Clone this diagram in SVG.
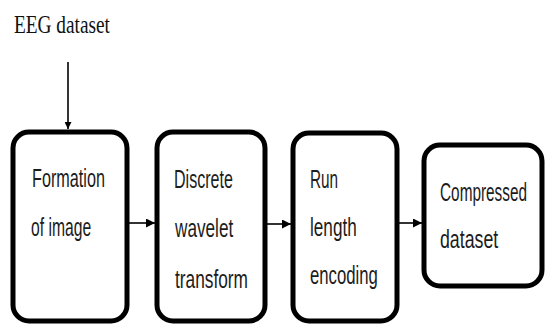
<svg xmlns="http://www.w3.org/2000/svg" width="547" height="325" viewBox="0 0 547 325">
<defs>
<style>
.box{fill:#fff;stroke:#000;stroke-width:5}
.t{font-family:"Liberation Sans",Arial,sans-serif;font-size:26px;fill:#1c1c1c}
.ttl{font-family:"Liberation Serif","Times New Roman",serif;font-size:26px;fill:#111}
.c{stroke:#000;stroke-width:1.6;fill:none}
</style>
<marker id="ah" viewBox="0 0 10 10" refX="10" refY="5" markerWidth="7" markerHeight="7" markerUnits="userSpaceOnUse" orient="auto"><path d="M0,0 L10,5 L0,10 z" fill="#000"/></marker>
<marker id="ah2" viewBox="0 0 10 10" refX="10" refY="5" markerWidth="9" markerHeight="9" markerUnits="userSpaceOnUse" orient="auto"><path d="M0,0 L10,5 L0,10 z" fill="#000"/></marker>
</defs>
<rect width="547" height="325" fill="#fff"/>
<text class="ttl" transform="translate(14,33) scale(0.75,1)" textLength="128" lengthAdjust="spacingAndGlyphs">EEG dataset</text>
<g id="n1">
<rect class="box" x="13" y="132" width="114" height="189" rx="16"/>
<text class="t" transform="translate(32,187) scale(0.64,1)" textLength="114" lengthAdjust="spacingAndGlyphs">Formation</text>
<text class="t" transform="translate(31,236) scale(0.64,1)" textLength="94" lengthAdjust="spacingAndGlyphs">of image</text>
</g>
<g id="n2">
<rect class="box" x="157" y="132" width="108" height="189" rx="16"/>
<text class="t" transform="translate(174,188) scale(0.64,1)" textLength="92" lengthAdjust="spacingAndGlyphs">Discrete</text>
<text class="t" transform="translate(175,237) scale(0.64,1)" textLength="91" lengthAdjust="spacingAndGlyphs">wavelet</text>
<text class="t" transform="translate(175,288) scale(0.64,1)" textLength="114" lengthAdjust="spacingAndGlyphs">transform</text>
</g>
<g id="n3">
<rect class="box" x="293" y="133" width="104" height="188" rx="16"/>
<text class="t" transform="translate(310,188) scale(0.64,1)" textLength="44" lengthAdjust="spacingAndGlyphs">Run</text>
<text class="t" transform="translate(310,236) scale(0.64,1)" textLength="73" lengthAdjust="spacingAndGlyphs">length</text>
<text class="t" transform="translate(310,284) scale(0.64,1)" textLength="106" lengthAdjust="spacingAndGlyphs">encoding</text>
</g>
<g id="n4">
<rect class="box" x="424" y="145" width="118" height="141" rx="16"/>
<text class="t" transform="translate(440,201) scale(0.64,1)" textLength="136" lengthAdjust="spacingAndGlyphs">Compressed</text>
<text class="t" transform="translate(440,248) scale(0.64,1)" textLength="91" lengthAdjust="spacingAndGlyphs">dataset</text>
</g>
<g id="connectors">
<line class="c" x1="68" y1="62" x2="68" y2="129" marker-end="url(#ah)"/>
<line class="c" x1="129" y1="223" x2="155" y2="223" stroke-width="2.5" marker-end="url(#ah2)"/>
<line class="c" x1="267" y1="224" x2="291" y2="224" stroke-width="2.5" marker-end="url(#ah2)"/>
<line class="c" x1="399" y1="223" x2="422" y2="223" stroke-width="2.5" marker-end="url(#ah2)"/>
</g>
</svg>
